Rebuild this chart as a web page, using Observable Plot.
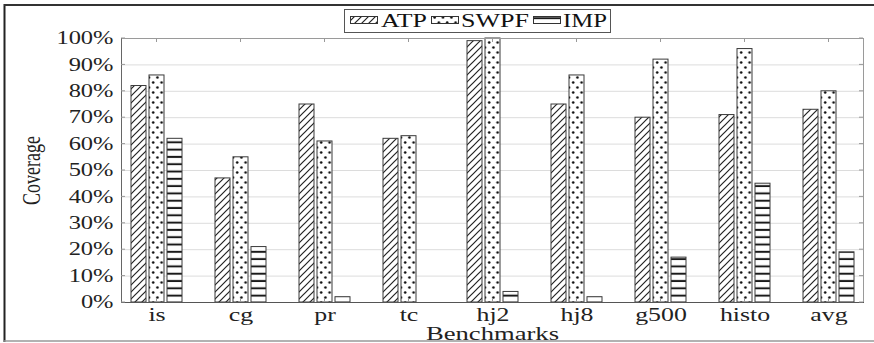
<!DOCTYPE html>
<html>
<head>
<meta charset="utf-8">
<script src="https://cdn.jsdelivr.net/npm/d3@7"></script>
<script src="https://cdn.jsdelivr.net/npm/@observablehq/plot@0.6"></script>
<style>
  body { margin: 0; background: #fff; }
  #chart svg { display: block; }
</style>
</head>
<body>
<div id="chart"></div>
<script>
// Coverage per benchmark for the three prefetchers
const benchmarks = ["is", "cg", "pr", "tc", "hj2", "hj8", "g500", "histo", "avg"];
const seriesNames = ["ATP", "SWPF", "IMP"];
const atp  = [82, 47, 75, 62, 99, 75, 70, 71, 73];
const swpf = [86, 55, 61, 63, 100, 86, 92, 96, 80];
const imp  = [62, 21, 2, 0, 4, 2, 17, 45, 19];
const yTicks = [0, 10, 20, 30, 40, 50, 60, 70, 80, 90, 100];

const valuesBySeries = {ATP: atp, SWPF: swpf, IMP: imp};
const rows = seriesNames.flatMap(s =>
  benchmarks.map((b, i) => ({benchmark: b, series: s, value: valuesBySeries[s][i]}))
);

const FONT = "'Liberation Serif', 'Times New Roman', serif";
const STRETCH = 1.36;   // glyphs are drawn wide, like the original typesetting
const BAR_STEP = 18;    // horizontal distance between neighbouring bars in a group

const chart = Plot.plot({
  width: 874,
  height: 343,
  marginLeft: 121,
  marginRight: 11,
  marginTop: 38,
  marginBottom: 41,
  style: {fontFamily: FONT, fontSize: "18px", color: "#222", background: "#fff"},
  x: {domain: benchmarks, paddingInner: 0.822, paddingOuter: 0.315, label: null},
  y: {domain: [0, 100], label: null},
  marks: [
    Plot.gridY(yTicks, {stroke: "#dcdcdc", strokeOpacity: 1}),
    ...seriesNames.map((s, i) =>
      Plot.barY(rows.filter(d => d.series === s), {
        x: "benchmark",
        y: "value",
        dx: (i - 1) * BAR_STEP,
        fill: `url(#pat-${s})`,
        stroke: "#3a3a3a",
        strokeWidth: 1
      })
    ),
    Plot.frame({stroke: "#9a9a9a"}),
    Plot.frame({anchor: "left", stroke: "#666"}),
    Plot.frame({anchor: "bottom", stroke: "#555"}),
    Plot.axisY(yTicks, {tickSize: 0, tickPadding: 8, tickFormat: d => d + "%", fontSize: 18, label: null}),
    Plot.axisX({tickSize: 0, tickPadding: 5, fontSize: 19, label: null}),
    Plot.text(["Benchmarks"], {text: d => d, frameAnchor: "bottom", textAnchor: "middle", lineAnchor: "bottom", dy: 37, fontSize: 19}),
    Plot.text(["Coverage"], {text: d => d, frameAnchor: "left", textAnchor: "middle", dx: -89, rotate: -90, fontSize: 18})
  ]
});

document.getElementById("chart").appendChild(chart);

const svg = d3.select(chart);
const xs = chart.scale("x");
const ys = chart.scale("y");

// Fill patterns: diagonal hatch, dots, horizontal lines
const defs = svg.insert("defs", ":first-child");
const hatch = defs.append("pattern").attr("id", "pat-ATP")
  .attr("patternUnits", "userSpaceOnUse").attr("width", 7).attr("height", 7);
hatch.append("rect").attr("width", 7).attr("height", 7).attr("fill", "#fff");
hatch.append("path").attr("d", "M0,7L7,0M-1,1L1,-1M6,8L8,6")
  .attr("stroke", "#222").attr("stroke-width", 1.2);

const dots = defs.append("pattern").attr("id", "pat-SWPF")
  .attr("patternUnits", "userSpaceOnUse").attr("width", 8.4).attr("height", 10);
dots.append("rect").attr("width", 8.4).attr("height", 10).attr("fill", "#fff");
dots.append("circle").attr("cx", 2).attr("cy", 2.5).attr("r", 1.3).attr("fill", "#111");
dots.append("circle").attr("cx", 6.2).attr("cy", 7.5).attr("r", 1.3).attr("fill", "#111");

const lines = defs.append("pattern").attr("id", "pat-IMP")
  .attr("patternUnits", "userSpaceOnUse").attr("width", 10).attr("height", 7.3);
lines.append("rect").attr("width", 10).attr("height", 7.3).attr("fill", "#fff");
lines.append("path").attr("d", "M0,3.6H10").attr("stroke", "#1a1a1a").attr("stroke-width", 2);

// Small inward ticks on all four sides of the plot frame
const [x0, x1] = xs.range;
const [y0, y1] = ys.range; // y0 bottom, y1 top
const ticks = svg.append("g").attr("stroke", "#999").attr("stroke-width", 1);
yTicks.forEach(v => {
  const y = ys.apply(v);
  ticks.append("line").attr("x1", x0).attr("x2", x0 + 4).attr("y1", y).attr("y2", y);
  ticks.append("line").attr("x1", x1).attr("x2", x1 - 4).attr("y1", y).attr("y2", y);
});
benchmarks.forEach(b => {
  const x = xs.apply(b) + xs.bandwidth / 2;
  ticks.append("line").attr("x1", x).attr("x2", x).attr("y1", y1).attr("y2", y1 + 4);
  ticks.append("line").attr("x1", x).attr("x2", x).attr("y1", y0).attr("y2", y0 - 4);
});

// Legend box along the top edge
const legend = svg.append("g").attr("font-family", FONT).attr("font-size", 18)
  .attr("fill", "#111").attr("text-anchor", "start");
legend.append("rect").attr("x", 344.5).attr("y", 9.5).attr("width", 266).attr("height", 23)
  .attr("fill", "#fff").attr("stroke", "#555");
const legendItems = [
  {name: "ATP",  swatch: 350, text: 381, width: 46},
  {name: "SWPF", swatch: 431, text: 461, width: 68},
  {name: "IMP",  swatch: 533, text: 563, width: 44}
];
legendItems.forEach(it => {
  legend.append("rect").attr("x", it.swatch + 0.5).attr("y", 16.5).attr("width", 27).attr("height", 7)
    .attr("fill", `url(#pat-${it.name})`).attr("stroke", "#333");
  legend.append("text").attr("x", it.text).attr("y", 27).text(it.name)
    .attr("textLength", it.width).attr("lengthAdjust", "spacingAndGlyphs");
});

// Widen the axis texts
svg.selectAll("g[aria-label='y-axis tick label'] text, g[aria-label='x-axis tick label'] text")
  .each(function () {
    const len = this.getComputedTextLength();
    if (len > 0) {
      this.setAttribute("textLength", len * STRETCH);
      this.setAttribute("lengthAdjust", "spacingAndGlyphs");
    }
  });
svg.selectAll("g[aria-label='text'] text").each(function () {
  if (this.textContent === "Benchmarks") {
    const len = this.getComputedTextLength();
    this.setAttribute("textLength", len * 1.4);
    this.setAttribute("lengthAdjust", "spacingAndGlyphs");
  } else if (this.textContent === "Coverage") {
    // widen the rotated label across the page, as for the other texts
    const t = this.getAttribute("transform") || "";
    const m = t.match(/translate\(([^,\s]+)[,\s]+([^)]+)\)/);
    if (m) this.setAttribute("transform", `translate(${m[1]},${m[2]}) scale(${STRETCH},1) rotate(-90)`);
  }
});

// Outer border of the figure
const border = svg.append("g");
border.append("line").attr("x1", 4.5).attr("x2", 4.5).attr("y1", 4).attr("y2", 342)
  .attr("stroke", "#222").attr("stroke-width", 2);
border.append("line").attr("x1", 4).attr("x2", 874).attr("y1", 5).attr("y2", 5)
  .attr("stroke", "#333").attr("stroke-width", 2);
border.append("line").attr("x1", 4).attr("x2", 874).attr("y1", 341).attr("y2", 341)
  .attr("stroke", "#999").attr("stroke-width", 1.5);
</script>
</body>
</html>
